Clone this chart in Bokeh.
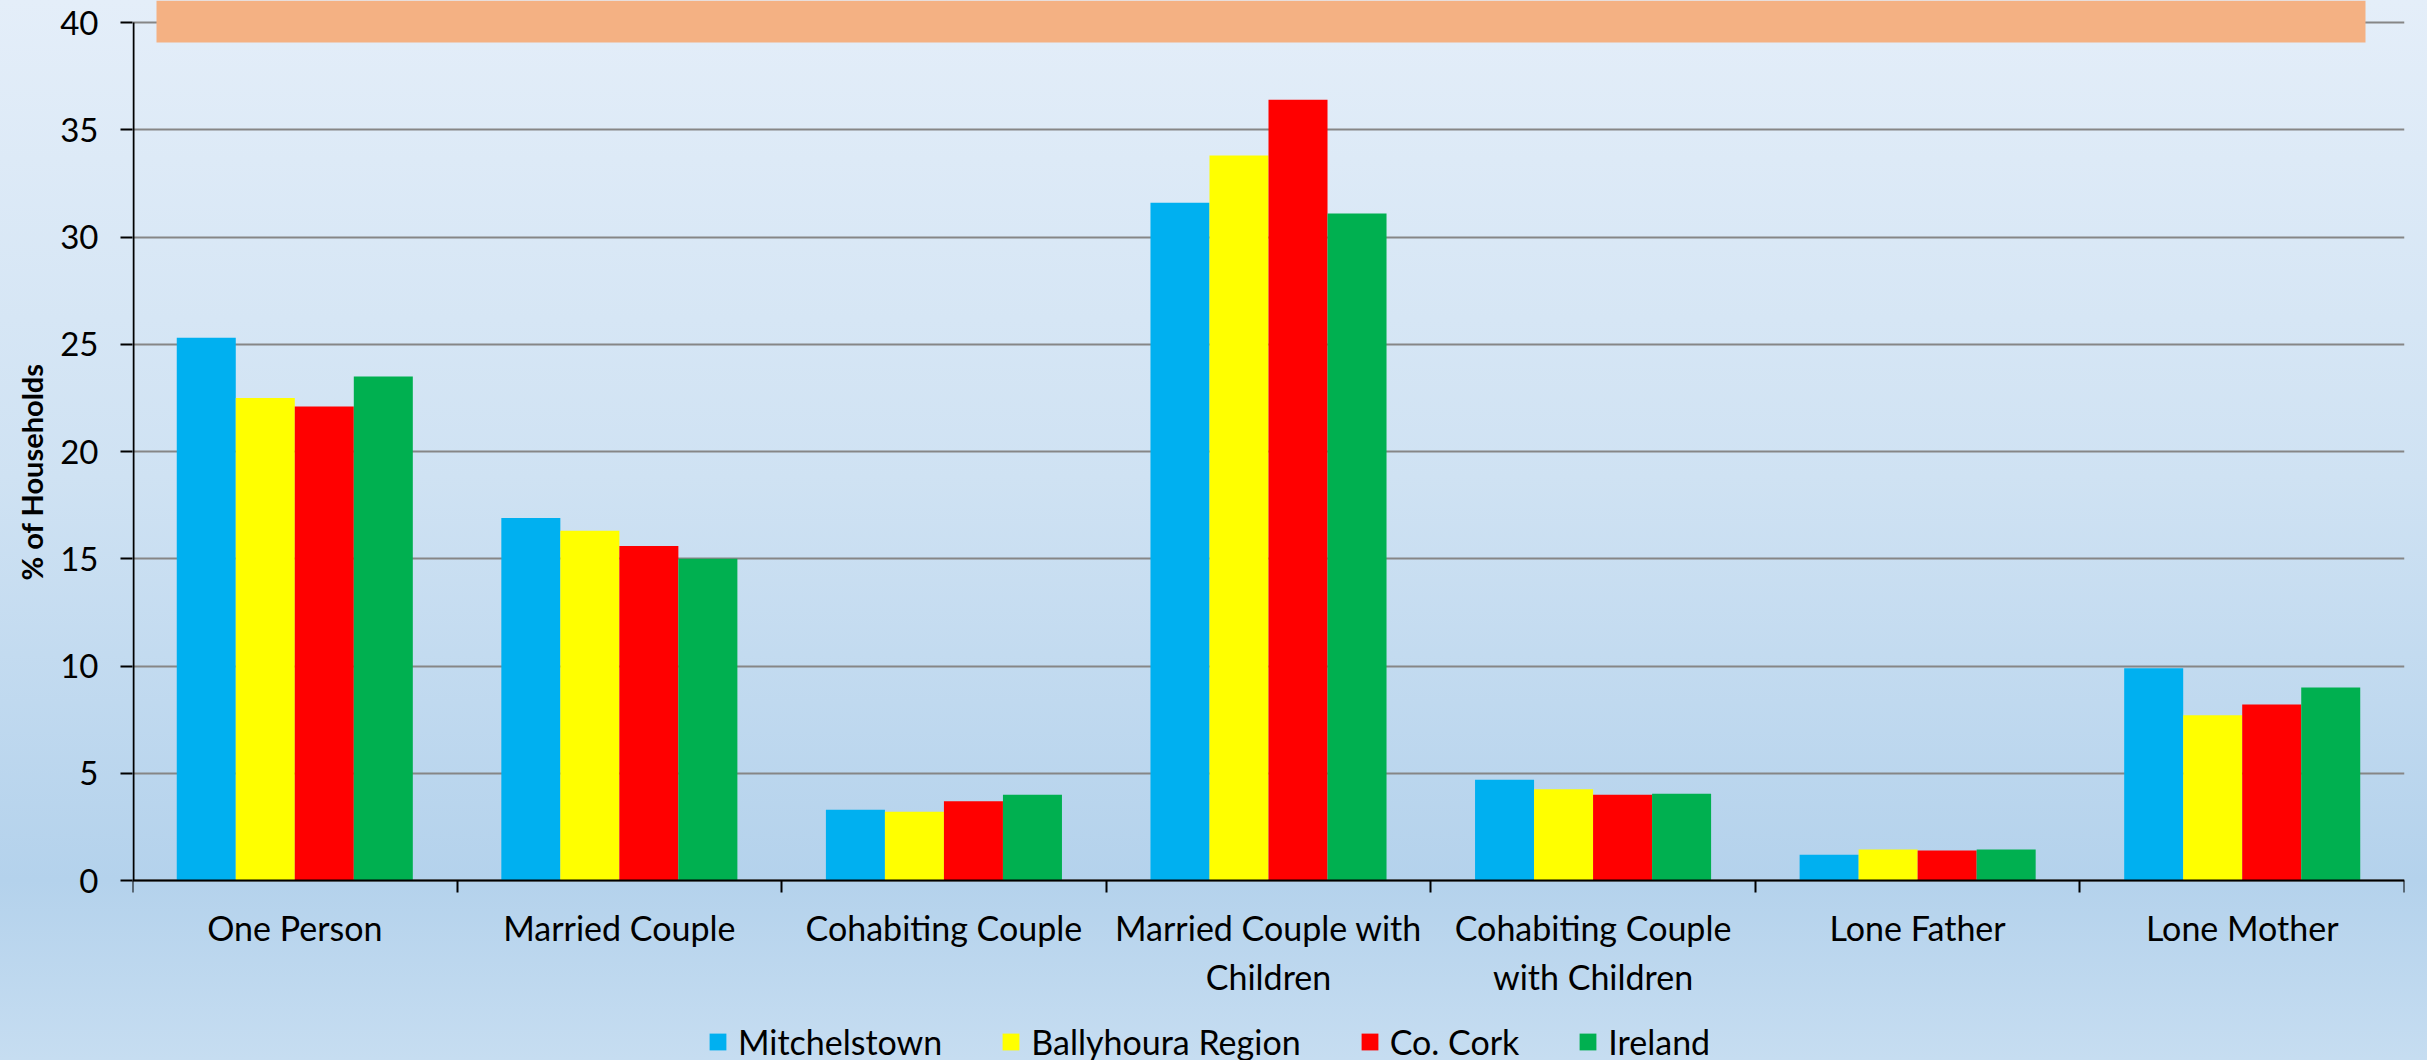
import numpy as np
from bokeh.plotting import figure
from bokeh.models import (ColumnDataSource, FixedTicker, Range1d, Legend, LegendItem,
                          BoxAnnotation, Title)
from bokeh.transform import dodge
from bokeh.embed import file_html
from bokeh.resources import INLINE

categories = ["One Person", "Married Couple", "Cohabiting Couple",
              "Married Couple with\nChildren", "Cohabiting Couple\nwith Children",
              "Lone Father", "Lone Mother"]
series_names = ["Mitchelstown", "Ballyhoura Region", "Co. Cork", "Ireland"]
mitchelstown = [25.3, 16.9, 3.3, 31.6, 4.7, 1.2, 9.9]
ballyhoura = [22.5, 16.3, 3.2, 33.8, 4.25, 1.45, 7.7]
co_cork = [22.1, 15.6, 3.7, 36.4, 4.0, 1.4, 8.2]
ireland = [23.5, 15.0, 4.0, 31.1, 4.05, 1.45, 9.0]
y_ticks = [0, 5, 10, 15, 20, 25, 30, 35, 40]

colors = ["#00B0F0", "#FFFF00", "#FF0000", "#00B050"]
FONT = "Lato"

W, H = 2427, 1060
FRAME_TOP, ZERO_Y = 22, 880                 # canvas px of the 40 line and of the 0 line
ppu = (ZERO_Y - FRAME_TOP) / 40.0           # pixels per unit
y_start = -(H - ZERO_Y) / ppu
y_end = ZERO_Y / ppu

p = figure(width=W, height=H, output_backend="svg", toolbar_location=None,
           x_range=Range1d(0, len(categories)), y_range=Range1d(y_start, y_end),
           min_border_left=132, min_border_right=23, min_border_top=0,
           min_border_bottom=0)
p.styles = {"position": "absolute", "left": "0px", "top": "0px",
            "background": "linear-gradient(to bottom, #e4eef9 0%, #cfe2f3 45%, #b4d2ec 83%, #c6ddf1 100%)"}
p.border_fill_alpha = 0
p.background_fill_alpha = 0
p.outline_line_color = None

idx = np.arange(len(categories)) + 0.5
src = ColumnDataSource(dict(x=idx, m=mitchelstown, b=ballyhoura, c=co_cork, i=ireland))

bw = 1.0 / 5.5
renderers = []
for k, (col, name, colr) in enumerate(zip(["m", "b", "c", "i"], series_names, colors)):
    off = (k - 1.5) * bw
    r = p.vbar(x=dodge("x", off, range=p.x_range), top=col, width=bw, bottom=0,
               source=src, fill_color=colr, line_color=None)
    renderers.append(r)

# grid
p.xgrid.grid_line_color = None
p.ygrid.ticker = FixedTicker(ticks=y_ticks)
p.ygrid.grid_line_color = "#868686"
p.ygrid.grid_line_width = 2

# y axis (axis line drawn separately so it stops at 0 and 40)
p.yaxis.ticker = FixedTicker(ticks=y_ticks)
p.yaxis.axis_line_color = None
p.yaxis.major_tick_line_color = "black"
p.yaxis.major_tick_line_width = 2
p.yaxis.major_tick_out = 12
p.yaxis.major_tick_in = 0
p.yaxis.minor_tick_line_color = None
p.yaxis.major_label_text_font = FONT
p.yaxis.major_label_text_font_size = "33px"
p.yaxis.major_label_text_color = "black"
p.yaxis.major_label_standoff = 22

yline = BoxAnnotation(left=132, right=134, top=FRAME_TOP, bottom=ZERO_Y,
                      left_units="canvas", right_units="canvas",
                      top_units="canvas", bottom_units="canvas",
                      fill_color="black", fill_alpha=1, line_color=None, level="overlay")
p.add_layout(yline)

ytitle = Title(text="% of Households", align="left", offset=480,
               text_font=FONT, text_font_style="bold", text_font_size="29px",
               text_color="black", standoff=17)
p.add_layout(ytitle, "left")

# x axis at y=0: labels at category centres, tick marks at category boundaries
p.xaxis.fixed_location = 0
p.xaxis.ticker = FixedTicker(ticks=list(idx), minor_ticks=list(range(len(categories) + 1)))
p.xaxis.major_label_overrides = {float(x): c for x, c in zip(idx, categories)}
p.xaxis.axis_line_color = "black"
p.xaxis.axis_line_width = 2
p.xaxis.major_tick_line_color = None
p.xaxis.major_tick_out = 12
p.xaxis.minor_tick_line_color = "black"
p.xaxis.minor_tick_line_width = 2
p.xaxis.minor_tick_out = 12
p.xaxis.minor_tick_in = 0
p.xaxis.major_label_text_font = FONT
p.xaxis.major_label_text_font_size = "34px"
p.xaxis.major_label_text_color = "black"
p.xaxis.major_label_standoff = 14

# orange banner at top
banner = BoxAnnotation(left=156, right=2365, top=0, bottom=42,
                       left_units="canvas", right_units="canvas",
                       top_units="canvas", bottom_units="canvas",
                       fill_color="#F4B183", fill_alpha=1, line_color=None,
                       level="overlay")
p.add_layout(banner)

legend = Legend(items=[LegendItem(label=n, renderers=[r]) for n, r in zip(series_names, renderers)],
                orientation="horizontal", location=(575, -2),
                glyph_width=21, glyph_height=21, label_standoff=10, spacing=58,
                padding=0, margin=0, border_line_color=None, background_fill_alpha=0,
                label_text_font=FONT, label_text_font_size="34px", label_text_color="black")
p.add_layout(legend, "center")

open("out.html", "w").write(file_html(p, INLINE))
